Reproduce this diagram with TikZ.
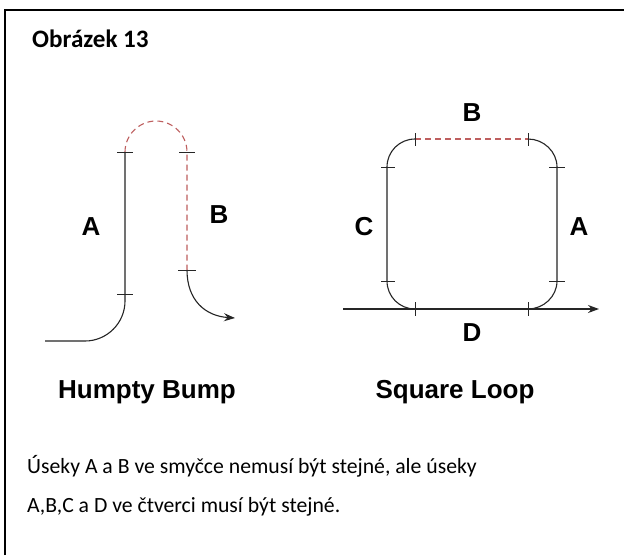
\documentclass[tikz,border=0pt]{standalone}
\usepackage{fontspec}
\setmainfont{Carlito}
\newfontfamily\arialfont{Liberation Sans}
\usetikzlibrary{arrows.meta}
\definecolor{dashred}{RGB}{190,95,95}
\tikzset{
  x=1pt,y=-1pt,
  ln/.style={line width=1.1pt,black!85},
  tickln/.style={line width=1pt,black!85},
  redd/.style={line width=1.1pt,dashred,dash pattern=on 6pt off 4pt},
  lbl/.style={font=\arialfont\bfseries\fontsize{26}{30}\selectfont,inner sep=0pt},
  captxt/.style={font=\arialfont\bfseries\fontsize{26}{30}\selectfont,inner sep=0pt},
  bodytxt/.style={anchor=base west,inner sep=0pt,font=\fontsize{21.7}{26}\selectfont},
  arr/.style={-{Stealth[length=11pt,width=8pt]}}
}
\begin{document}
\begin{tikzpicture}
\useasboundingbox (0,0) rectangle (624,555);
\fill[white] (0,0) rectangle (624,555);
% frame
\draw[line width=2pt] (5,555) -- (5,10) -- (624,10);
% title
\node[anchor=base west,inner sep=0pt,font=\bfseries\fontsize{25.1}{29}\selectfont] (title) at (32,47) {Obrázek 13};
% ---- Humpty Bump ----
\coordinate (h0) at (45,341);
\coordinate (hA2) at (125,152);
\coordinate (hB1) at (187,152);
\coordinate (hB2) at (187,270);
\coordinate (hend) at (235,318);
\draw[ln] (h0) -- (85,341) .. controls (107,341) and (125,323) .. (125,301) -- (hA2);
\draw[redd] (hA2) .. controls (125,135) and (139,121) .. (156,121) .. controls (173,121) and (187,135) .. (hB1) -- (hB2);
\draw[ln,arr] (hB2) .. controls (187,300) and (205,316) .. (hend);
\draw[tickln] (117,152) -- (133,152);
\draw[tickln] (117,294) -- (133,294);
\draw[tickln] (179,152) -- (195,152);
\draw[tickln] (178,270) -- (196,270);
\node[lbl] (hlA) at (91,227) {A};
\node[lbl] (hlB) at (219,215) {B};
\node[captxt] (hcap) at (147,392) {Humpty Bump};
% ---- Square Loop ----
\coordinate (s0) at (343,309);
\coordinate (send) at (599,309);
\draw[ln,arr] (s0) -- (send);
\draw[redd] (415,139) -- (528,139);
\draw[ln] (528,139) .. controls (543.5,139) and (557,151.5) .. (557,167) -- (557,281) .. controls (557,296.5) and (543.5,309) .. (528,309);
\draw[ln] (415,309) .. controls (399.5,309) and (387,296.5) .. (387,281) -- (387,167) .. controls (387,151.5) and (399.5,139) .. (415,139);
\foreach \x in {415,528} {
  \draw[tickln] (\x,133) -- (\x,146);
  \draw[tickln] (\x,302) -- (\x,316);
}
\foreach \y in {167,281} {
  \draw[tickln] (381,\y) -- (395,\y);
  \draw[tickln] (549,\y) -- (565,\y);
}
\node[lbl] (slB) at (472,113) {B};
\node[lbl] (slC) at (364,227) {C};
\node[lbl] (slA) at (579,227) {A};
\node[lbl] (slD) at (472,333) {D};
\node[captxt] (scap) at (455,392) {Square Loop};
% ---- body text ----
\node[bodytxt] (t1) at (27,473) {Úseky A a B ve smyčce nemusí být stejné, ale úseky};
\node[bodytxt] (t2) at (27,512) {A,B,C a D ve čtverci musí být stejné.};
\end{tikzpicture}
\end{document}
